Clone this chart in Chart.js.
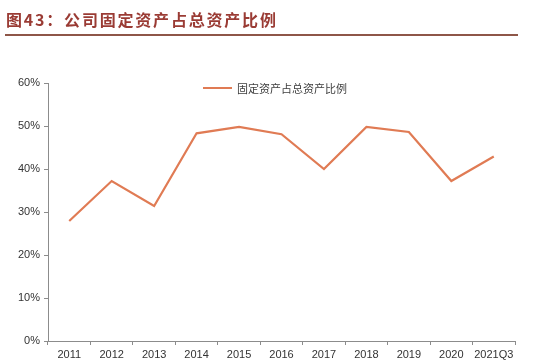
<!DOCTYPE html>
<html>
<head>
<meta charset="utf-8">
<script src="https://cdn.jsdelivr.net/npm/chart.js@4/dist/chart.umd.min.js"></script>
<style>
    html, body { margin: 0; padding: 0; background: #fff; }
    #wrap { position: relative; width: 541px; height: 363px; overflow: hidden; }
    #title {
        position: absolute; left: 6px; top: 7px;
        font-family: "Noto Sans CJK SC", sans-serif; font-weight: bold;
        font-size: 16px; color: #9a3b34; letter-spacing: 1.8px;
    }
    #rule { position: absolute; left: 5px; top: 34px; width: 513px; height: 2px; background: #8e5648; }
    #legend {
        position: absolute; left: 203px; top: 80px;
        font-family: "Noto Sans CJK SC", sans-serif; font-size: 11px; color: #404040;
        display: flex; align-items: center;
    }
    #legend span.swatch { display: inline-block; width: 29px; height: 2px; background: #e07b54; margin-right: 5px; }
    canvas { position: absolute; left: 0; top: 0; }
</style>
</head>
<body>
<div id="wrap">
    <canvas id="chart" width="541" height="363"></canvas>
    <div id="title">图43：公司固定资产占总资产比例</div>
    <div id="rule"></div>
    <div id="legend"><span class="swatch"></span>固定资产占总资产比例</div>
</div>
<script>
// Data
const categories = ['2011', '2012', '2013', '2014', '2015', '2016', '2017', '2018', '2019', '2020', '2021Q3'];
const fixedAssetRatio = [27.9, 37.2, 31.4, 48.3, 49.8, 48.1, 40.0, 49.8, 48.6, 37.2, 42.9];
const yTicks = [0, 10, 20, 30, 40, 50, 60];

const axisColor = '#8c8c8c';
const tickFont = { family: 'Liberation Sans, Arial, sans-serif', size: 11 };

new Chart(document.getElementById('chart'), {
    type: 'line',
    data: {
        labels: categories,
        datasets: [{
            label: '固定资产占总资产比例',
            data: fixedAssetRatio,
            borderColor: '#e07b54',
            borderWidth: 2.2,
            pointRadius: 0,
            tension: 0,
            fill: false
        }]
    },
    options: {
        responsive: false,
        animation: false,
        layout: { padding: { top: 83, left: 0, right: 26, bottom: 0 } },
        plugins: {
            legend: { display: false },
            tooltip: { enabled: false }
        },
        scales: {
            x: {
                offset: true,
                grid: { offset: true, drawOnChartArea: false, color: axisColor, tickLength: 4 },
                border: { color: axisColor, width: 1 },
                ticks: { color: '#333', font: tickFont, padding: 3, maxRotation: 0, autoSkip: false },
                afterFit: function(scale) { scale.height = 22; }
            },
            y: {
                min: 0,
                max: 60,
                afterBuildTicks: function(scale) { scale.ticks = yTicks.map(v => ({ value: v })); },
                grid: { drawOnChartArea: false, color: axisColor, tickLength: 4 },
                border: { color: axisColor, width: 1 },
                ticks: { color: '#333', font: tickFont, padding: 4, callback: v => v + '%' },
                afterFit: function(scale) { scale.width = 48; }
            }
        }
    }
});
</script>
</body>
</html>
